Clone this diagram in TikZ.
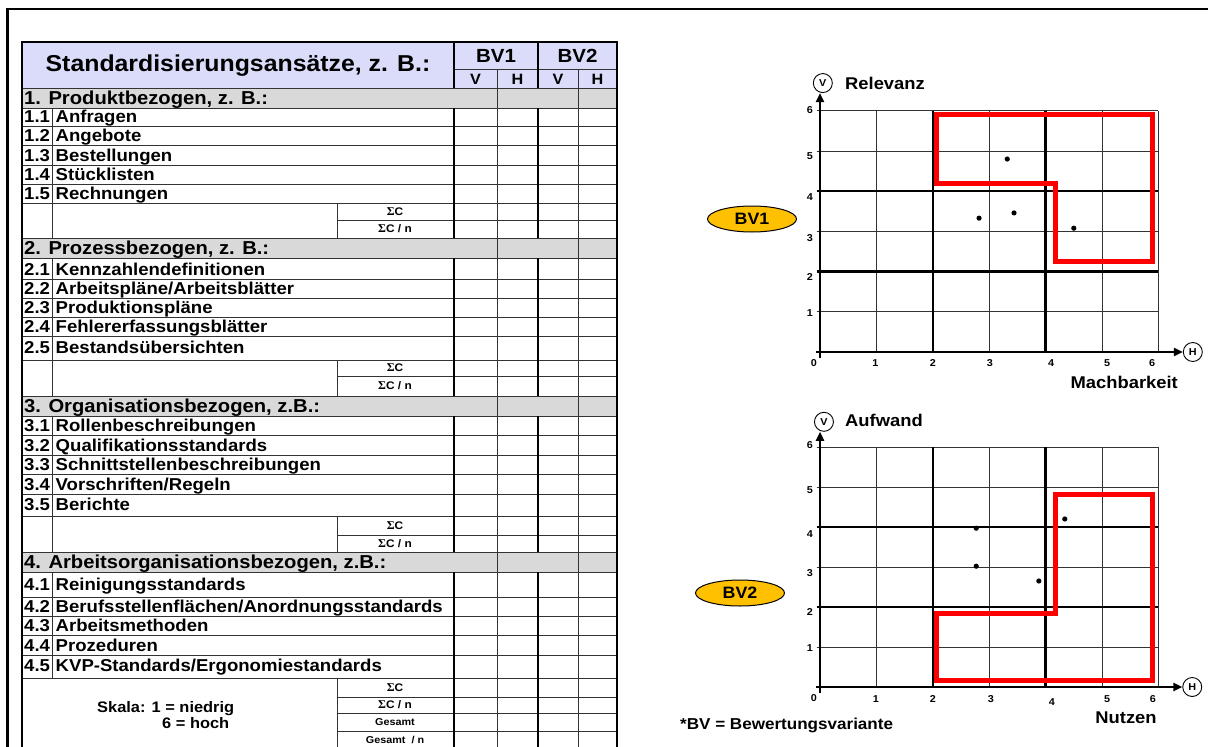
\documentclass[tikz,border=0pt]{standalone}
\usepackage{fontspec}
\setmainfont{Liberation Sans}[FakeStretch=1.08]
\newfontfamily\symf{Liberation Serif}
\usetikzlibrary{arrows.meta,shapes.geometric}
\definecolor{hdrblue}{RGB}{218,220,250}
\definecolor{secgray}{RGB}{217,217,217}
\definecolor{bvgold}{RGB}{255,192,0}
\definecolor{redline}{RGB}{255,0,0}
\newcommand\fsz[1]{\bfseries\fontsize{#1}{#1}\selectfont}
\begin{document}
\begin{tikzpicture}[x=1pt,y=-1pt,
  tline/.style={line width=0.9pt,draw=black!80},
  thk/.style={line width=1.8pt,draw=black},
  titletxt/.style={font=\fsz{23},inner sep=0},
  hdrtxt/.style={font=\fsz{19},inner sep=0},
  vhtxt/.style={font=\fsz{15},inner sep=0},
  sectxt/.style={anchor=base west,font=\fsz{18.7},inner sep=0},
  itemtxt/.style={anchor=base west,font=\fsz{17.2},inner sep=0},
  sumtxt/.style={font=\fsz{11},inner sep=0},
  gestxt/.style={font=\fsz{10},inner sep=0},
  skalatxt/.style={anchor=base west,font=\fsz{15.2},inner sep=0},
  gridthin/.style={line width=0.9pt,draw=black!80},
  gridthick/.style={line width=2.4pt,draw=black},
  axisline/.style={line width=2.6pt,draw=black,-{Triangle[length=9pt,width=8pt]}},
  axcirc/.style={circle,draw=black,line width=0.9pt,minimum size=19pt,inner sep=0,font=\fsz{10}},
  redpoly/.style={line width=5pt,draw=redline,line join=miter},
  dotmark/.style={fill=black},
  ticktxt/.style={font=\fsz{10},inner sep=0},
  axlbl/.style={font=\fsz{17},inner sep=0},
  notetxt/.style={font=\fsz{15.8},inner sep=0},
  bvell/.style={ellipse,draw=black,line width=1pt,fill=bvgold,minimum width=89pt,minimum height=26pt,inner sep=0,font=\fsz{16.5}}
]
\useasboundingbox (0,0) rectangle (1208,747);
% outer frame
\draw[line width=2.6pt] (7.5,760) -- (7.5,9) -- (1220,9);

% ---------- table ----------
\fill[hdrblue] (22,42) rectangle (617,88);
\node[titletxt] (title) at (238,66) {Standardisierungsansätze, z. B.:};
\node[hdrtxt] (bv1h) at (496,56) {BV1};
\node[hdrtxt] (bv2h) at (577.5,56) {BV2};
\node[vhtxt] (v1h) at (475.5,79) {V};
\node[vhtxt] (h1h) at (517.5,79) {H};
\node[vhtxt] (v2h) at (558,79) {V};
\node[vhtxt] (h2h) at (597.5,79) {H};

\foreach \t/\b/\txt [count=\i] in {88/108/{1. Produktbezogen, z. B.:},238/258/{2. Prozessbezogen, z. B.:},396/416/{3. Organisationsbezogen, z.B.:},552/572/{4. Arbeitsorganisationsbezogen, z.B.:}}
{
  \fill[secgray] (22,\t) rectangle (617,\b);
  \node[sectxt] (sec\i) at (24,\b-4) {\txt};
}

\foreach \b/\nm/\txt [count=\i] in {126/1.1/{Anfragen},145/1.2/{Angebote},165/1.3/{Bestellungen},184/1.4/{Stücklisten},203/1.5/{Rechnungen},
  279/2.1/{Kennzahlendefinitionen},298/2.2/{Arbeitspläne/Arbeitsblätter},317/2.3/{Produktionspläne},336/2.4/{Fehlererfassungsblätter},357/2.5/{Bestandsübersichten},
  435/3.1/{Rollenbeschreibungen},455/3.2/{Qualifikationsstandards},474/3.3/{Schnittstellenbeschreibungen},494/3.4/{Vorschriften/Regeln},514/3.5/{Berichte},
  594/4.1/{Reinigungsstandards},616/4.2/{Berufsstellenflächen/Anordnungsstandards},635/4.3/{Arbeitsmethoden},655/4.4/{Prozeduren},675/4.5/{KVP-Standards/Ergonomiestandards}}
{
  \node[itemtxt] (num\i) at (24,\b-3.5) {\nm};
  \node[itemtxt] (item\i) at (55.5,\b-3.5) {\txt};
}

\foreach \t/\m/\b [count=\i] in {203/220/238,360/376/396,516/535/552,678/697/713}
{
  \node[sumtxt] (sc\i) at (395,{(\t+\m)/2}) {{\symf\fontsize{12}{12}\selectfont Σ}C};
  \node[sumtxt] (scn\i) at (395,{(\m+\b)/2}) {{\symf\fontsize{12}{12}\selectfont Σ}C / n};
}
\node[gestxt] (ges) at (395,722) {Gesamt};
\node[gestxt] (gesn) at (395,740) {Gesamt \ / n};
\node[skalatxt] (skala1) at (97,712) {Skala: 1 = niedrig};
\node[skalatxt] (skala2) at (162,728) {6 = hoch};

% horizontal lines
\foreach \y in {88,108,126,145,165,184,203,238,258,279,298,317,336,360,396,416,435,455,474,494,516,552,572,597,616,635,655,678}
  \draw[tline] (22,\y) -- (617,\y);
\foreach \y in {220,376,535,697,713,731}
  \draw[tline] (337,\y) -- (617,\y);
\draw[tline] (454,69) -- (617,69);
% vertical lines
\foreach \a/\b in {108/238,258/396,416/552,572/678}
  \draw[tline] (52,\a) -- (52,\b);
\foreach \a/\b in {203/238,360/396,516/552,678/750}
  \draw[tline] (337,\a) -- (337,\b);
\foreach \x in {454,538}
  \foreach \a/\b in {42/88,108/238,258/396,416/552,572/750}
    \draw[thk] (\x,\a) -- (\x,\b);
\draw[tline] (497,69) -- (497,750) (578,69) -- (578,750);
\draw[thk] (22,750) -- (22,42) -- (617,42) -- (617,750);

% ---------- chart 1 ----------
\begin{scope}[shift={(820,352)},x=56.4pt,y=40.2pt]
  \coordinate (o1) at (0,0);
  \foreach \i in {1,3,5,6} \draw[gridthin] (\i,0) -- (\i,6);
  \foreach \j in {1,3,5,6} \draw[gridthin] (-0.06,\j) -- (6,\j);
  \foreach \i in {2,4} \draw[gridthick] (\i,0) -- (\i,6) (-0.06,\i) -- (6,\i);
  \node[axcirc] (cv1) at (0.05,6.69) {V};
  \node[axcirc] (ch1) at (6.61,0) {H};
  \draw[axisline] (0,-0.15) -- (o1 |- cv1.south);
  \draw[axisline] (-0.07,0) -- (o1 -| ch1.west);
  \draw[redpoly] (2.07,5.9) -- (5.89,5.9) -- (5.89,2.24) -- (4.18,2.24) -- (4.18,4.18) -- (2.07,4.18) -- cycle;
  \foreach \px/\py in {3.32/4.8,2.82/3.33,3.44/3.46,4.5/3.08}
    \fill[dotmark] (\px,\py) circle[radius=2.6pt];
  \foreach \lb/\py in {6/6.02,5/4.88,4/3.86,3/2.84,2/1.87,1/0.97}
    \node[ticktxt] (ya\lb) at (-0.18,\py) {\lb};
  \node[ticktxt] (xa0) at (-0.11,-0.27) {0};
  \foreach \lb/\px in {1/0.98,2/2.0,3/3.01,4/4.1,5/5.09,6/5.89}
    \node[ticktxt] (xa\lb) at (\px,-0.27) {\lb};
\end{scope}

% ---------- chart 2 ----------
\begin{scope}[shift={(820,687)},x=56.4pt,y=40pt]
  \coordinate (o2) at (0,0);
  \foreach \i in {1,3,5,6} \draw[gridthin] (\i,0) -- (\i,6);
  \foreach \j in {1,3,5,6} \draw[gridthin] (-0.06,\j) -- (6,\j);
  \foreach \i in {2,4} \draw[gridthick] (\i,0) -- (\i,6) (-0.06,\i) -- (6,\i);
  \node[axcirc] (cv2) at (0.07,6.63) {V};
  \node[axcirc] (ch2) at (6.6,0) {H};
  \draw[axisline] (0,-0.15) -- (o2 |- cv2.south);
  \draw[axisline] (-0.07,0) -- (o2 -| ch2.west);
  \draw[redpoly] (4.17,4.82) -- (5.9,4.82) -- (5.9,0.17) -- (2.07,0.17) -- (2.07,1.85) -- (4.17,1.85) -- cycle;
  \foreach \px/\py in {2.77/3.97,2.77/3.02,3.88/2.65,4.34/4.2}
    \fill[dotmark] (\px,\py) circle[radius=2.6pt];
  \foreach \lb/\py in {6/6.05,5/4.93,4/3.83,3/2.85,2/1.88,1/0.98}
    \node[ticktxt] (yb\lb) at (-0.18,\py) {\lb};
  \node[ticktxt] (xb0) at (-0.11,-0.28) {0};
  \foreach \lb/\px/\py in {1/0.99/-0.3,2/2.0/-0.3,3/3.03/-0.3,4/4.11/-0.37,5/5.09/-0.3,6/5.9/-0.3}
    \node[ticktxt] (xb\lb) at (\px,\py) {\lb};
\end{scope}

% labels
\node[axlbl,anchor=west] (rel) at (845,83) {Relevanz};
\node[axlbl,anchor=east] (mach) at (1178,382) {Machbarkeit};
\node[axlbl,anchor=west] (auf) at (845,420) {Aufwand};
\node[axlbl] (nutz) at (1126,718) {Nutzen};
\node[notetxt,anchor=west] (note) at (680,725) {*BV = Bewertungsvariante};
\node[bvell] (bv1) at (752,219) {BV1};
\node[bvell] (bv2) at (740,593) {BV2};
\end{tikzpicture}
\end{document}
